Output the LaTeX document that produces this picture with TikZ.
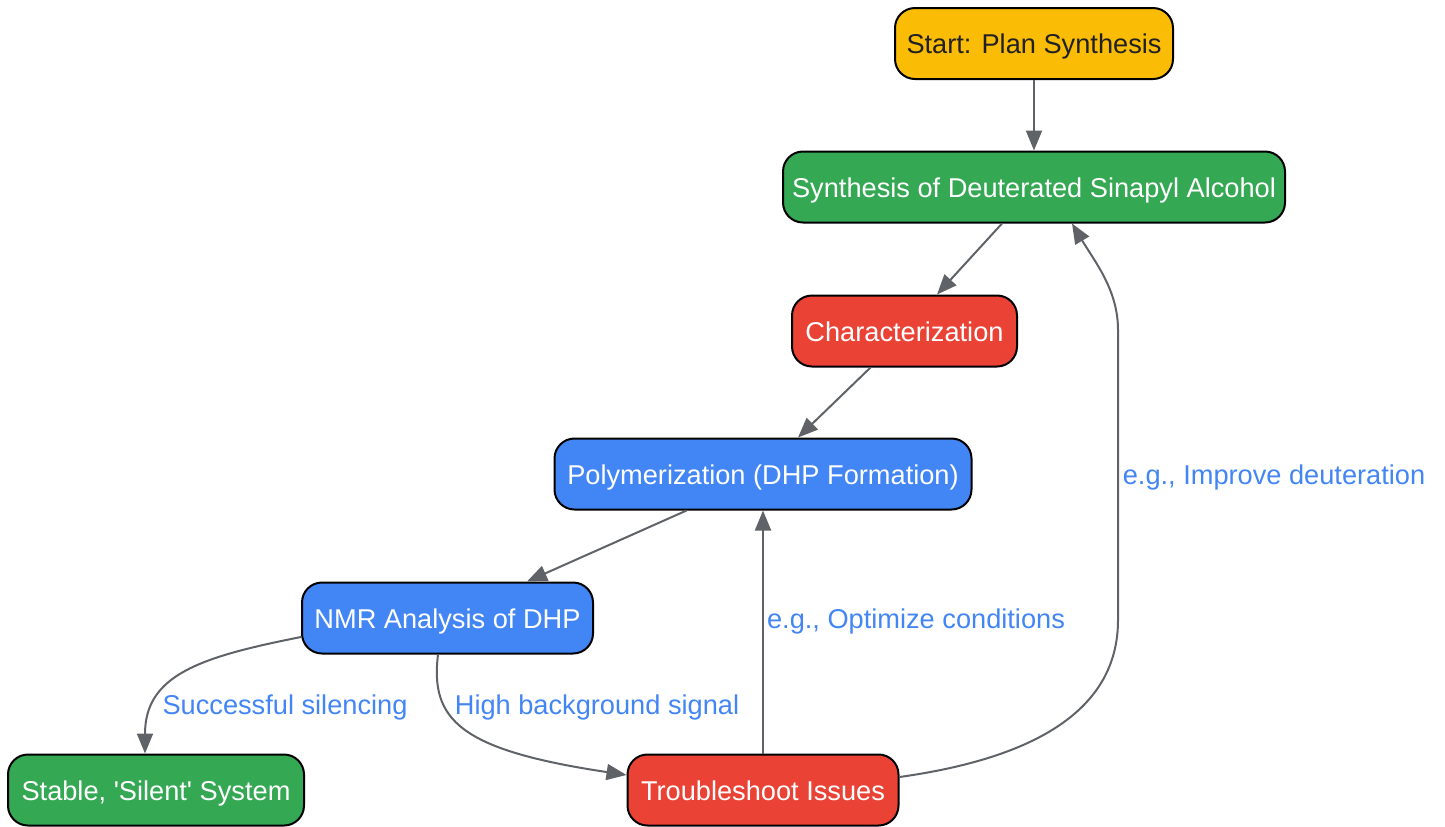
\documentclass[tikz,border=0pt]{standalone}
\usepackage{fontspec}
\setmainfont{Liberation Sans}
\usetikzlibrary{arrows.meta}
\definecolor{gyellow}{HTML}{FBBC05}
\definecolor{ggreen}{HTML}{34A853}
\definecolor{gred}{HTML}{EA4335}
\definecolor{gblue}{HTML}{4285F4}
\definecolor{edgegray}{HTML}{5F6368}
\definecolor{darktext}{HTML}{202124}
\tikzset{
  box/.style={draw=black, line width=1pt, rounded corners=10pt, minimum height=35.5pt,
    inner sep=0pt, text height=12.4pt, text depth=2.2pt,
    font=\fontsize{13.6}{16}\selectfont, text=white},
  conn/.style={draw=edgegray, line width=1pt, -{Triangle[length=10pt,width=8pt]}},
  elabel/.style={text=gblue, font=\fontsize{13.6}{16}\selectfont, inner sep=0pt}
}
\begin{document}
\begin{tikzpicture}[x=0.5pt,y=-0.5pt]
\useasboundingbox (0,0) rectangle (1445,826);
\node[box, fill=gyellow, text=darktext, minimum width=139pt] (start) at (1034,43.5) {Start: Plan Synthesis};
\node[box, fill=ggreen, minimum width=251pt] (synth) at (1034,187) {Synthesis of Deuterated Sinapyl Alcohol};
\node[box, fill=gred, minimum width=112.5pt] (char) at (904.5,331) {Characterization};
\node[box, fill=gblue, minimum width=208.5pt] (poly) at (763,474) {Polymerization (DHP Formation)};
\node[box, fill=gblue, minimum width=145.5pt] (nmr) at (447.5,618) {NMR Analysis of DHP};
\node[box, fill=ggreen, minimum width=148pt] (stable) at (156,790) {Stable, \textquotesingle Silent\textquotesingle\ System};
\node[box, fill=gred, minimum width=135.5pt] (trouble) at (763,790) {Troubleshoot Issues};

\draw[conn] (start.south) -- (synth.north);
\draw[conn] ([xshift=-16pt]synth.south) -- ([xshift=16.25pt]char.north);
\draw[conn] ([xshift=-17pt]char.south) -- ([xshift=17.5pt]poly.north);
\draw[conn] ([xshift=-38.25pt]poly.south) -- ([xshift=39.75pt]nmr.north);
\draw[conn] ([yshift=-9.5pt]nmr.west) .. controls (200,657) and (145,675) .. ([xshift=-5.5pt]stable.north);
\draw[conn] ([xshift=-4.75pt]nmr.south) .. controls (430,720) and (460,750) .. ([yshift=7.5pt]trouble.west);
\draw[conn] (trouble.north) -- (poly.south);
\draw[conn] ([yshift=6.5pt]trouble.east) .. controls (1035,758) and (1118,710) .. (1118,620)
  -- (1118,330) .. controls (1118,290) and (1095,262) .. ([xshift=19pt]synth.south);

\node[elabel] (l1) at (285,707) {Successful silencing};
\node[elabel] (l2) at (597,707) {High background signal};
\node[elabel] (l3) at (916,621) {e.g., Optimize conditions};
\node[elabel] (l4) at (1274,477) {e.g., Improve deuteration};
\end{tikzpicture}
\end{document}
